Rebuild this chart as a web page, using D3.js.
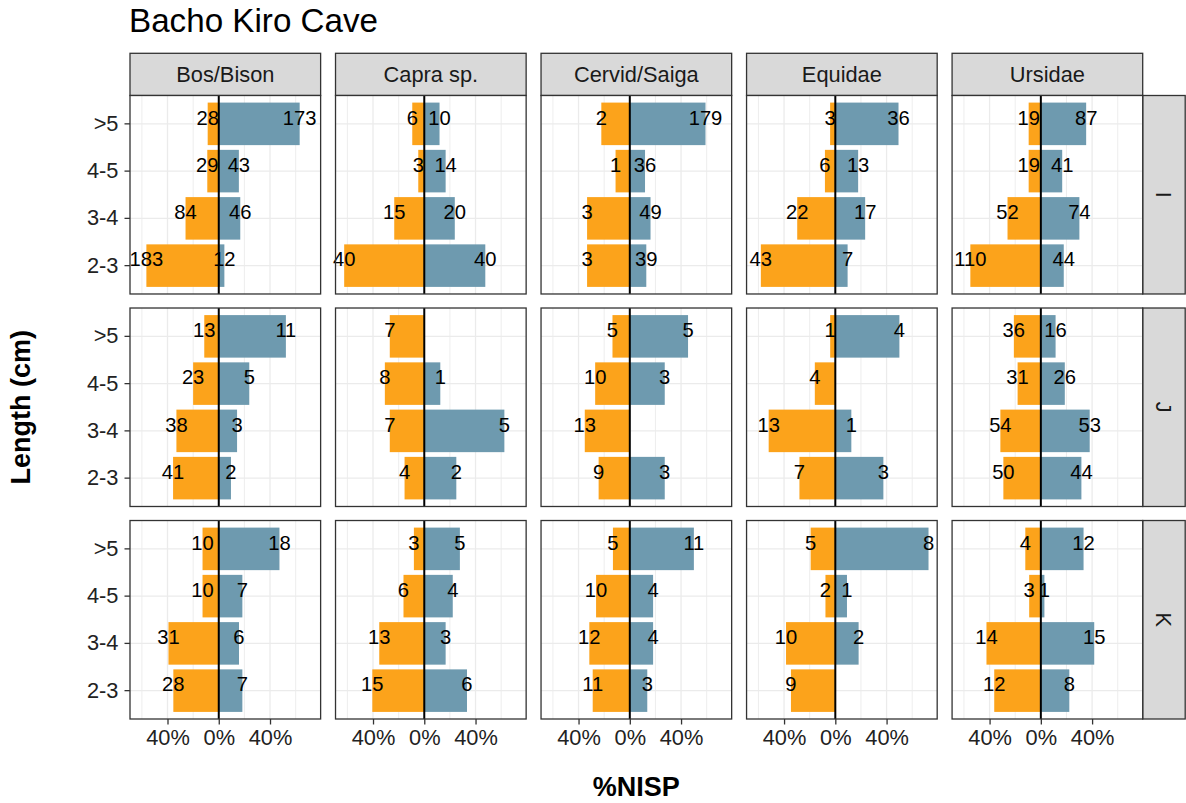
<!DOCTYPE html>
<html>
<head>
<meta charset="utf-8">
<script src="https://cdn.jsdelivr.net/npm/d3@7/dist/d3.min.js"></script>
<style>
  html, body { margin: 0; padding: 0; background: #fff; }
  svg { display: block; font-family: "Liberation Sans", Arial, sans-serif; }
</style>
</head>
<body>
<svg id="chart" width="1186" height="803"></svg>
<script>
// Faceted diverging bars: fragment length classes per taxon (columns) and square (rows).
const taxa = ["Bos/Bison", "Capra sp.", "Cervid/Saiga", "Equidae", "Ursidae"];
const squares = ["I", "J", "K"];
const sizeClasses = [">5", "4-5", "3-4", "2-3"];
const xTickValues = [-40, 0, 40];
const xGridValues = [-60, -40, -20, 0, 20, 40, 60];

// Counts drawn to the left (orange), per taxon, in sizeClasses order
const leftI = [[28, 29, 84, 183], [6, 3, 15, 40], [2, 1, 3, 3], [3, 6, 22, 43], [19, 19, 52, 110]];
const leftJ = [[13, 23, 38, 41], [7, 8, 7, 4], [5, 10, 13, 9], [1, 4, 13, 7], [36, 31, 54, 50]];
const leftK = [[10, 10, 31, 28], [3, 6, 13, 15], [5, 10, 12, 11], [5, 2, 10, 9], [4, 3, 14, 12]];

// Counts drawn to the right (blue); null = no fragments in that class
const rightI = [[173, 43, 46, 12], [10, 14, 20, 40], [179, 36, 49, 39], [36, 13, 17, 7], [87, 41, 74, 44]];
const rightJ = [[11, 5, 3, 2], [null, 1, 5, 2], [5, 3, null, 3], [4, null, 1, 3], [16, 26, 53, 44]];
const rightK = [[18, 7, 6, 7], [5, 4, 3, 6], [11, 4, 4, 3], [8, 1, 2, null], [12, 1, 15, 8]];

const leftBySquare = { I: leftI, J: leftJ, K: leftK };
const rightBySquare = { I: rightI, J: rightJ, K: rightK };

const ORANGE = "#FCA31B";
const BLUE = "#6E9AAF";
const FONT = "'Liberation Sans', Arial, sans-serif";

// Build long-format rows with %NISP computed per panel and per side
const rows = [];
squares.forEach(sq => {
  taxa.forEach((tx, ti) => {
    [["left", leftBySquare[sq][ti], -1], ["right", rightBySquare[sq][ti], 1]].forEach(([side, counts, sign]) => {
      const total = d3.sum(counts, c => c || 0);
      counts.forEach((c, ci) => {
        if (c == null) return;
        rows.push({ square: sq, taxon: tx, size: sizeClasses[ci], side, count: c, pct: sign * c / total * 100 });
      });
    });
  });
});

const svg = d3.select("#chart");

const colScale = d3.scaleBand().domain(taxa).range([130, 1142.7]).paddingInner(0.0725);
const rowScale = d3.scaleBand().domain(squares).range([95.5, 719]).paddingInner(0.066);
const pw = colScale.bandwidth();
const ph = rowScale.bandwidth();

const pMin = d3.min(rows, d => d.pct), pMax = d3.max(rows, d => d.pct);
const span = pMax - pMin;
const x = d3.scaleLinear().domain([pMin - 0.05 * span, pMax + 0.05 * span]).range([0, pw]);
const y = d3.scaleBand().domain(sizeClasses).range([0, ph]).paddingInner(0.1).paddingOuter(0.15);
const yMid = s => y(s) + y.bandwidth() / 2;

// Title
svg.append("text").attr("x", 129).attr("y", 32)
  .attr("font-size", 33.2).attr("fill", "#000").attr("font-family", FONT)
  .text("Bacho Kiro Cave");

// Column strips
const stripTop = 53.3, stripH = 42.2;
taxa.forEach(tx => {
  const g = svg.append("g").attr("transform", `translate(${colScale(tx)},${stripTop})`);
  g.append("rect").attr("width", pw).attr("height", stripH)
    .attr("fill", "#D9D9D9").attr("stroke", "#333").attr("stroke-width", 1.3);
  g.append("text").attr("x", pw / 2).attr("y", stripH / 2).attr("dy", "0.36em")
    .attr("text-anchor", "middle").attr("font-size", 21.8).attr("fill", "#1A1A1A")
    .text(tx);
});

// Row strips
const stripX = 1142.7, stripW = 42.5;
squares.forEach(sq => {
  const g = svg.append("g").attr("transform", `translate(${stripX},${rowScale(sq)})`);
  g.append("rect").attr("width", stripW).attr("height", ph)
    .attr("fill", "#D9D9D9").attr("stroke", "#333").attr("stroke-width", 1.3);
  g.append("text").attr("transform", `translate(${stripW / 2},${ph / 2}) rotate(90)`)
    .attr("dy", "0.36em").attr("text-anchor", "middle")
    .attr("font-size", 21.8).attr("fill", "#1A1A1A").text(sq);
});

// Panels
squares.forEach(sq => {
  taxa.forEach(tx => {
    const g = svg.append("g").attr("transform", `translate(${colScale(tx)},${rowScale(sq)})`);
    g.append("rect").attr("width", pw).attr("height", ph).attr("fill", "#fff");

    g.selectAll("line.vg").data(xGridValues).join("line").attr("class", "vg")
      .attr("x1", d => x(d)).attr("x2", d => x(d)).attr("y1", 0).attr("y2", ph)
      .attr("stroke", "#EBEBEB").attr("stroke-width", d => (d % 40 === 0 ? 1.3 : 0.9));
    g.selectAll("line.hg").data(sizeClasses).join("line").attr("class", "hg")
      .attr("x1", 0).attr("x2", pw).attr("y1", d => yMid(d)).attr("y2", d => yMid(d))
      .attr("stroke", "#EBEBEB").attr("stroke-width", 1.3);

    const pd = rows.filter(r => r.square === sq && r.taxon === tx);
    g.selectAll("rect.bar").data(pd).join("rect").attr("class", "bar")
      .attr("x", d => Math.min(x(0), x(d.pct)))
      .attr("width", d => Math.abs(x(d.pct) - x(0)))
      .attr("y", d => y(d.size)).attr("height", y.bandwidth())
      .attr("fill", d => (d.side === "left" ? ORANGE : BLUE));

    g.append("line").attr("x1", x(0)).attr("x2", x(0)).attr("y1", 0).attr("y2", ph)
      .attr("stroke", "#000").attr("stroke-width", 2);

    g.selectAll("text.lab").data(pd).join("text").attr("class", "lab")
      .attr("x", d => x(d.pct)).attr("y", d => yMid(d.size) + 0.8)
      .attr("text-anchor", "middle").attr("font-size", 20.2).attr("fill", "#000")
      .text(d => d.count);

    g.append("rect").attr("width", pw).attr("height", ph)
      .attr("fill", "none").attr("stroke", "#333").attr("stroke-width", 1.3);

    // y axis only on first column
    if (tx === taxa[0]) {
      const ya = g.append("g").call(d3.axisLeft(y).tickSize(5.5).tickPadding(6));
      ya.select(".domain").remove();
      ya.selectAll(".tick line").attr("stroke", "#333").attr("stroke-width", 1.3);
      ya.selectAll(".tick text").attr("font-size", 21.8).attr("fill", "#222").attr("font-family", FONT);
    }
    // x axis only on bottom row
    if (sq === squares[squares.length - 1]) {
      const xa = g.append("g").attr("transform", `translate(0,${ph})`)
        .call(d3.axisBottom(x).tickValues(xTickValues).tickSize(5.5).tickPadding(5)
          .tickFormat(d => Math.abs(d) + "%"));
      xa.select(".domain").remove();
      xa.selectAll(".tick line").attr("stroke", "#333").attr("stroke-width", 1.3);
      xa.selectAll(".tick text").attr("font-size", 21.8).attr("fill", "#222").attr("font-family", FONT);
    }
  });
});

// Axis titles
svg.append("text")
  .attr("transform", `translate(30,${(95.5 + 719) / 2}) rotate(-90)`)
  .attr("text-anchor", "middle").attr("font-size", 27).attr("font-weight", "bold")
  .attr("fill", "#000").text("Length (cm)");
svg.append("text")
  .attr("x", (130 + 1142.7) / 2).attr("y", 796)
  .attr("text-anchor", "middle").attr("font-size", 27).attr("font-weight", "bold")
  .attr("fill", "#000").text("%NISP");
</script>
</body>
</html>
